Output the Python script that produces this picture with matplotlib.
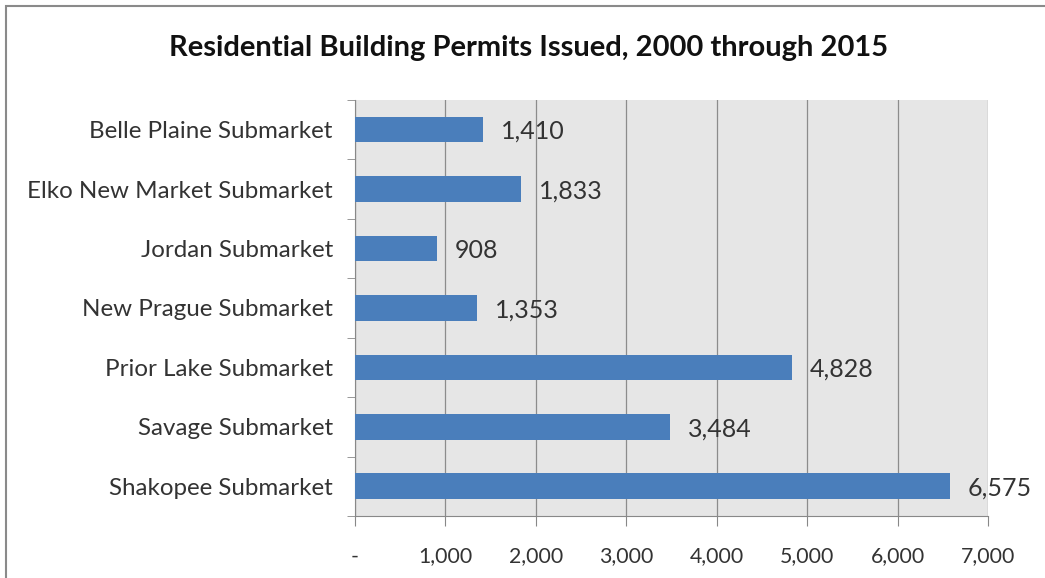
import matplotlib.pyplot as plt
from matplotlib.patches import Rectangle
from matplotlib.ticker import FuncFormatter

# Permits by submarket, top to bottom as listed
submarkets = [
    "Belle Plaine Submarket",
    "Elko New Market Submarket",
    "Jordan Submarket",
    "New Prague Submarket",
    "Prior Lake Submarket",
    "Savage Submarket",
    "Shakopee Submarket",
]
permits = [1410, 1833, 908, 1353, 4828, 3484, 6575]
x_ticks = [0, 1000, 2000, 3000, 4000, 5000, 6000, 7000]

plt.rcParams['font.family'] = ['Lato', 'DejaVu Sans']

fig = plt.figure(figsize=(10.45, 5.78), dpi=100)
ax = fig.add_axes([0.3397, 0.1073, 0.6058, 0.7197])

ypos = list(range(len(submarkets)))
ax.barh(ypos, permits, height=0.43, color='#4a7ebb', zorder=3)

for y, v in zip(ypos, permits):
    ax.text(v + 200, y + 0.03, f"{v:,}", va='center', ha='left',
            fontsize=18, color='#333333', zorder=4)

ax.set_ylim(len(submarkets) - 0.5, -0.5)
ax.set_xlim(0, 7000)
ax.set_yticks(ypos)
ax.set_yticklabels(submarkets, fontsize=17.4, color='#333333')
ax.set_yticks([i + 0.5 for i in range(-1, len(submarkets))], minor=True)
ax.tick_params(axis='y', which='major', length=0, pad=16)
ax.tick_params(axis='y', which='minor', length=6, color='#888888', direction='out')

ax.set_xticks(x_ticks)
ax.xaxis.set_major_formatter(FuncFormatter(lambda v, p: '-' if v == 0 else f"{int(v):,}"))
ax.tick_params(axis='x', length=7, color='#888888', labelsize=15.3,
               labelcolor='#333333', pad=15)

ax.set_facecolor('#e6e6e6')
ax.grid(axis='x', color='#8c8c8c', linewidth=0.9, zorder=1)
for side in ['top', 'right']:
    ax.spines[side].set_visible(False)
ax.spines['left'].set_color('#888888')
ax.spines['bottom'].set_color('#888888')

fig.text(0.506, 0.917, "Residential Building Permits Issued, 2000 through 2015",
         ha='center', va='center', fontsize=21, fontweight='bold', color='#111111')

# outer chart frame
fig.patches.append(Rectangle((0.006, -0.01), 1.1, 0.999, transform=fig.transFigure,
                             fill=False, edgecolor='#8a8a8a', linewidth=1.5))

fig.savefig('out.png', dpi=100, facecolor='white')
